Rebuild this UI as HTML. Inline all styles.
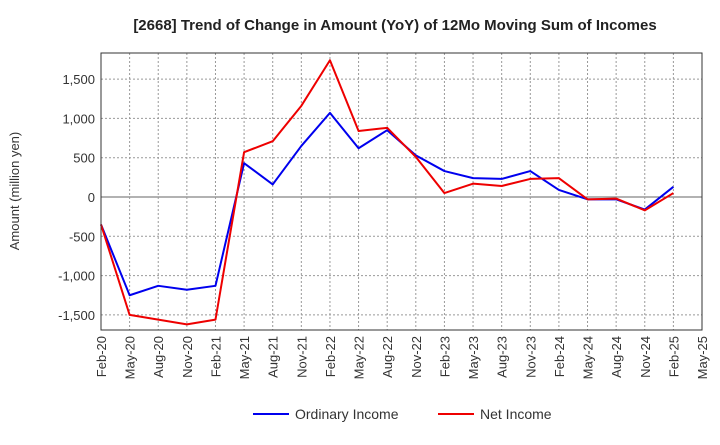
<!DOCTYPE html>
<html><head><meta charset="utf-8"><style>
body{margin:0;background:#fff;font-family:"Liberation Sans",sans-serif}
</style></head><body>
<svg width="720" height="440" xmlns="http://www.w3.org/2000/svg" font-family="Liberation Sans, sans-serif">
<text x="395" y="30" text-anchor="middle" font-size="15" font-weight="bold" fill="#222">[2668]  Trend of Change in Amount (YoY) of 12Mo Moving Sum of Incomes</text>
<g id="grid"></g>
<g id="yt"></g>
<g id="xt"></g>
<text transform="translate(19,191) rotate(-90)" text-anchor="middle" font-size="13" fill="#333">Amount (million yen)</text>
<g id="series"></g>
<rect x="101" y="53" width="601" height="277" fill="none" stroke="#333" stroke-width="1"/>
<g>
<g><line x1="253" y1="414" x2="289" y2="414" stroke="#0000ee" stroke-width="2"/><text x="295" y="419" font-size="14" fill="#333">Ordinary Income</text></g>
<g><line x1="438" y1="414" x2="474" y2="414" stroke="#ee0000" stroke-width="2"/><text x="480" y="419" font-size="14" fill="#333">Net Income</text></g>
</g>
</svg>
<script>
const categories=["Feb-20","May-20","Aug-20","Nov-20","Feb-21","May-21","Aug-21","Nov-21","Feb-22","May-22","Aug-22","Nov-22","Feb-23","May-23","Aug-23","Nov-23","Feb-24","May-24","Aug-24","Nov-24","Feb-25","May-25"];
const ordinaryIncome=[-350,-1250,-1130,-1180,-1130,430,160,650,1070,620,850,530,330,240,230,330,90,-30,-30,-160,130];
const netIncome=[-350,-1500,-1560,-1620,-1560,570,710,1160,1740,840,880,510,50,170,140,230,240,-30,-20,-170,50];
const yTicks=[1500,1000,500,0,-500,-1000,-1500];
const yTickLabels=["1,500","1,000","500","0","-500","-1,000","-1,500"];
const NS="http://www.w3.org/2000/svg";
const X0=101,X1=702,Y0=53,Y1=330;
const yScale=v=>197-v*(39.3/500);
const xScale=i=>X0+i*(X1-X0)/(categories.length-1);
function mk(t,a,p){const e=document.createElementNS(NS,t);for(const k in a)e.setAttribute(k,a[k]);p.appendChild(e);return e;}
const grid=document.getElementById('grid'),yt=document.getElementById('yt'),xt=document.getElementById('xt'),ser=document.getElementById('series');
yTicks.forEach((v,i)=>{const y=yScale(v);
const g=mk('line',{x1:X0,x2:X1,y1:y,y2:y,stroke:v===0?'#666':'#999','stroke-dasharray':v===0?'none':'2,2','stroke-width':1},grid);


const t=mk('text',{x:X0-6,y:y+5,'text-anchor':'end','font-size':13,fill:'#333'},yt);t.textContent=yTickLabels[i];

});
categories.forEach((c,i)=>{const x=xScale(i);
if(i>0&&i<categories.length-1){const g=mk('line',{x1:x,x2:x,y1:Y0,y2:Y1,stroke:'#999','stroke-dasharray':'2,2'},grid);

}
const t=mk('text',{transform:`translate(${x+5},${Y1+6}) rotate(-90)`,'text-anchor':'end','font-size':13,fill:'#333'},xt);t.textContent=c;

});
function line(d,col,name){const p=mk('polyline',{points:d.map((v,i)=>xScale(i)+','+yScale(v)).join(' '),fill:'none',stroke:col,'stroke-width':2,'stroke-linejoin':'round'},ser);

}
line(ordinaryIncome,'#0000ee','ordinary-income-line');
line(netIncome,'#ee0000','net-income-line');
</script>
</body></html>
